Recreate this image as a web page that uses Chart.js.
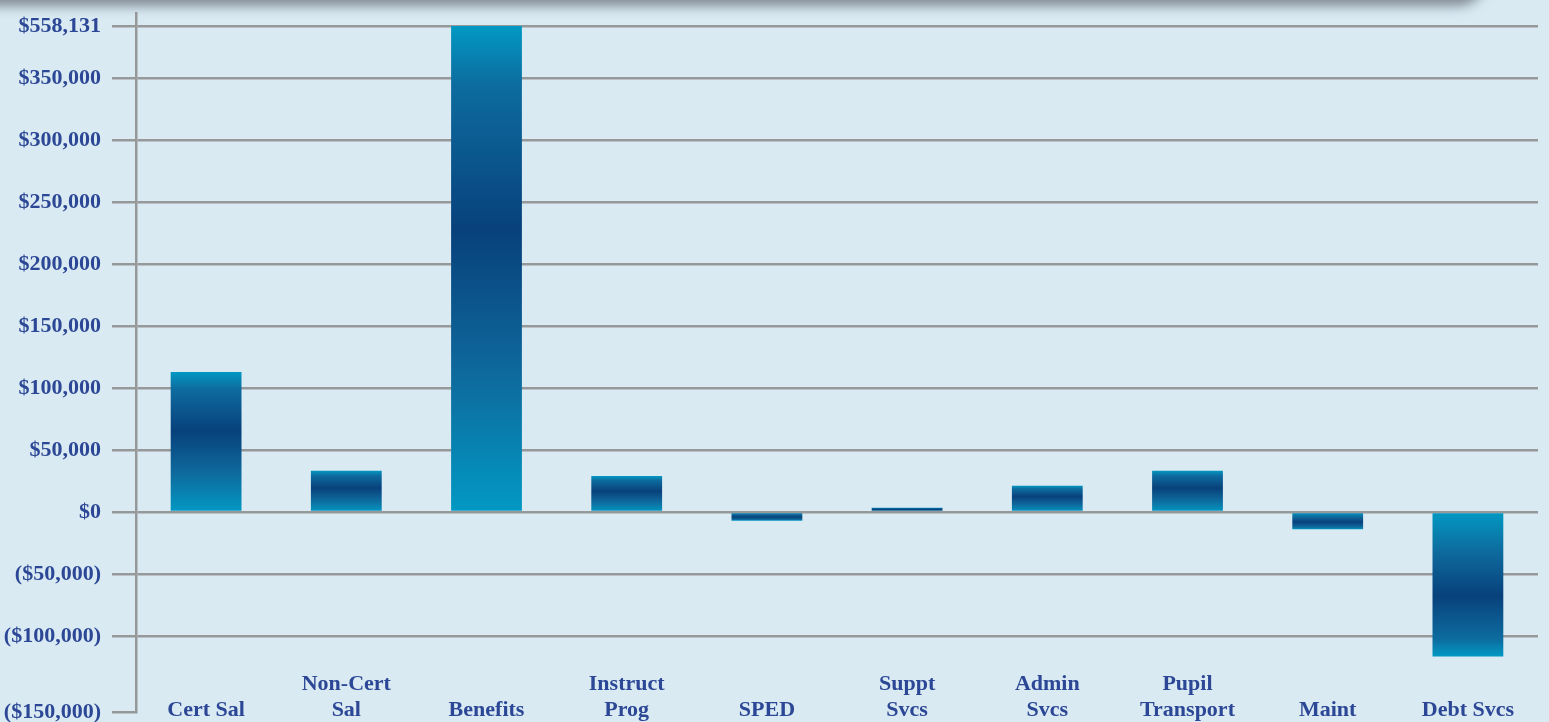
<!DOCTYPE html>
<html>
<head>
<meta charset="utf-8">
<script src="https://cdn.jsdelivr.net/npm/chart.js@4"></script>
<style>
  html, body { margin: 0; padding: 0; background: #d9eaf3; overflow: hidden; }
  #wrap { position: relative; width: 1549px; height: 722px; }
  #shade {
    position: absolute; top: -22px; left: -40px; width: 1526px; height: 28px;
    background: #7f8994; filter: blur(6px); border-radius: 0 0 30px 0;
    pointer-events: none; z-index: 2;
  }
</style>
</head>
<body>
<div id="wrap">
  <div id="shade"></div>
  <canvas id="myChart"></canvas>
</div>
<script>
// categories (empty first line keeps one-line labels on the bottom row)
const categories = [
  ["", "Cert Sal"], ["Non-Cert", "Sal"], ["", "Benefits"], ["Instruct", "Prog"],
  ["", "SPED"], ["Suppt", "Svcs"], ["Admin", "Svcs"], ["Pupil", "Transport"],
  ["", "Maint"], ["", "Debt Svcs"]
];
const values = [112900, 33300, 558131, 29000, -7000, 3500, 21200, 33300, -14000, -116500];

// the axis in the picture is broken: top and bottom ticks sit off the regular spacing
const tickValues = [-161290, -100000, -50000, 0, 50000, 100000, 150000, 200000, 250000, 300000, 350000, 391935];
const tickLabels = ["($150,000)", "($100,000)", "($50,000)", "$0", "$50,000", "$100,000", "$150,000",
  "$200,000", "$250,000", "$300,000", "$350,000", "$558,131"];
const axisMin = -161290;
const axisMax = 402419;

const gridGray = "#979899";
const labelBlue = "#2c4795";
const labelFont = { family: "'Liberation Serif', 'DejaVu Serif', serif", size: 22, weight: "bold", lineHeight: 1.18 };

function barGradient(context) {
  const chart = context.chart;
  if (!chart.chartArea || context.type !== "data") return "#0a4a85";
  const y = chart.scales.y;
  const base = y.getPixelForValue(0);
  let end = y.getPixelForValue(context.raw);
  end = Math.max(end, y.getPixelForValue(tickValues[tickValues.length - 1]));
  if (Math.abs(end - base) < 1) end = base - 1;
  const g = chart.ctx.createLinearGradient(0, end, 0, base);
  g.addColorStop(0, "#0299c3");
  g.addColorStop(0.12, "#0d6c9f");
  g.addColorStop(0.42, "#08417c");
  g.addColorStop(0.72, "#0e6a9d");
  g.addColorStop(1, "#0299c3");
  return g;
}

function noPadding(scale) {
  scale.paddingTop = 0;
  scale.paddingBottom = 0;
  scale.paddingLeft = 0;
  scale.paddingRight = 0;
}

new Chart("myChart", {
  type: "bar",
  data: {
    labels: categories,
    datasets: [{
      data: values,
      backgroundColor: barGradient,
      borderWidth: 0,
      categoryPercentage: 1,
      barPercentage: 0.505,
      clip: { left: 0, right: 0, top: -13, bottom: 0 }
    }]
  },
  options: {
    responsive: true,
    maintainAspectRatio: false,
    animation: false,
    layout: { padding: { top: 13, right: 11, left: 0, bottom: 0 } },
    plugins: { legend: { display: false }, tooltip: { enabled: false } },
    scales: {
      x: {
        grid: { display: false, drawTicks: false },
        border: { display: false },
        ticks: {
          autoSkip: false, maxRotation: 0, minRotation: 0,
          mirror: true, padding: 15, color: labelBlue, font: labelFont
        },
        afterFit: function(scale) { scale.height = 10; noPadding(scale); }
      },
      y: {
        min: axisMin,
        max: axisMax,
        afterBuildTicks: function(scale) {
          scale.ticks = tickValues.map(function(v) { return { value: v }; });
        },
        afterFit: function(scale) { scale.width = 136; noPadding(scale); },
        grid: {
          color: function(c) { return c.index === 0 ? "rgba(0,0,0,0)" : gridGray; },
          tickColor: gridGray,
          lineWidth: 2.5,
          tickLength: 24
        },
        border: { display: true, color: gridGray, width: 2.5 },
        ticks: {
          padding: 11,
          color: labelBlue,
          font: labelFont,
          callback: function(value, index) { return tickLabels[index]; }
        }
      }
    }
  }
});
</script>
</body>
</html>
